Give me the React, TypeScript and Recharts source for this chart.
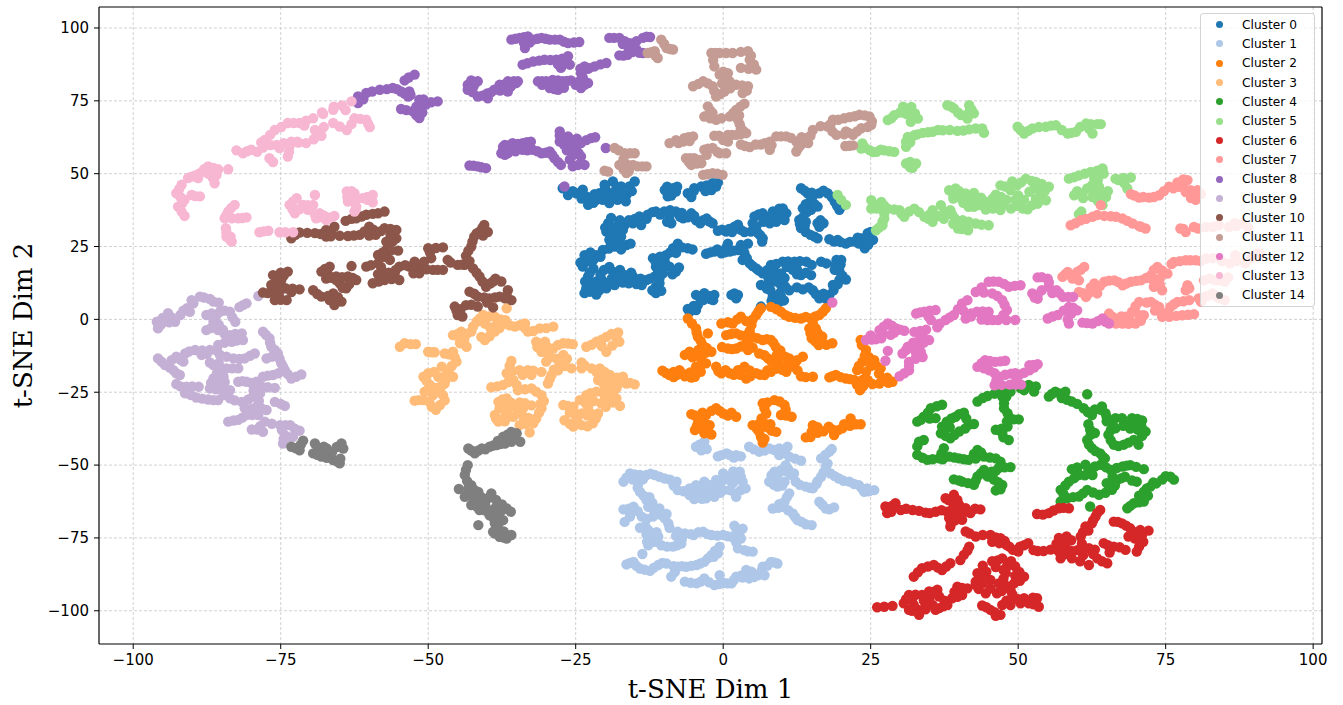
import React from "react";
import { ScatterChart, Scatter, XAxis, YAxis, CartesianGrid, Legend, ReferenceLine } from "recharts";

const cluster0 = [[-27.2,45],[-26.3,42.7],[-24.9,43.3],[-23.2,42.2],[-22.9,39.3],[-21.5,41],[-21,43.3],[-20.1,46.2],[-18.7,47.3],[-19.5,43.3],[-18.4,43.9],[-19.3,39.9],[-17.9,41],[-16.4,42.7],[-15.9,45.6],[-15,47.3],[-17.3,45.6],[-20.4,41],[-9.9,44.4],[-9.1,43.9],[-8,43.9],[-9.4,42.2],[-8.5,45],[-6,43.3],[-4.9,45],[-3.7,45.6],[-1.8,46.7],[-1.2,45.6],[-2,44.4],[-12.8,35.9],[-14.2,35.3],[-13.9,32.4],[-15.3,33],[-16.7,32.4],[-18.1,31.8],[-19.5,33],[-19.8,30.1],[-18.1,29.6],[-17,30.7],[-19.3,27.3],[-17.3,28.4],[-16.4,25.5],[-18.4,25],[-20.4,23.8],[-21.5,22],[-23.5,22],[-22,20.4],[-23.8,18.1],[-22,17.5],[-22.9,14.7],[-21.5,13],[-23.2,10.7],[-23.5,9],[-21,10],[-19.8,10.7],[-18.4,11.8],[-20.2,17],[-18.7,16.4],[-20.7,14],[-18.9,14],[-16.6,15.2],[-15.3,14.7],[-16,12.4],[-14.7,12.1],[-13,13.5],[-11.6,14.7],[-10.2,15.8],[-11.4,11.2],[-11.4,9],[-10.8,12.4],[-8,16.4],[-9.1,18.1],[-9.9,19.8],[-11.4,18.1],[-11.9,21],[-9.7,22],[-8.5,24.4],[-7.7,26],[-6,24.4],[-11.4,37],[-10,37],[-9.1,35.3],[-8.8,33],[-8,37],[-6.8,34.7],[-5.4,36.4],[-4.6,34],[-3.4,34],[-2.3,33.6],[-0.9,30.4],[0.5,30.1],[1.9,31.8],[3,30.7],[1.5,30],[-2.9,22.5],[-1.5,23.3],[-0.3,22.7],[0.8,26],[1.1,23.3],[2.5,23.8],[4.2,26],[3.6,22.7],[3.3,20.4],[4.5,19.2],[5.6,17.5],[6.7,15.8],[5.3,35.3],[6.7,36.4],[8.4,37],[10.1,38.1],[10.7,36.4],[9,34.7],[7.9,33],[10.4,34.1],[5.6,31.8],[4.7,30.1],[5.9,29.6],[6.7,27.8],[13.2,45],[14.3,43.3],[14.9,41],[16.3,43.3],[17.7,43.3],[18.9,40.4],[19.7,37.6],[13.5,38.1],[14.9,37.6],[16,38.7],[12.9,34.1],[14,33.5],[16.5,34],[16.3,31.8],[13.2,31.3],[14,30],[15.5,28.4],[18,27.5],[19.4,27.3],[20.8,26],[22.3,26.7],[23.4,27.8],[24.5,29.6],[25.4,27.3],[24,24.4],[23.8,27],[8.1,18.7],[10.1,19.8],[12.1,19.8],[14.1,19.8],[16.6,19.8],[19.2,20.4],[20,20.4],[8.4,15.8],[9.8,15.8],[11.8,17],[13.2,15.2],[14.9,15.2],[18.9,17],[19.7,16.5],[6.4,11.8],[7.9,12.4],[9.8,11.8],[11.2,10],[13.5,10.3],[15.2,10],[16.3,7.2],[18,8.4],[18.6,11.8],[20.8,13.7],[19.7,13.5],[8.4,7.8],[9.8,7.8],[9,4.9],[-4.6,8.4],[-3.2,9],[-1.5,8.4],[-1.7,6.6],[-3.4,6.6],[-4.3,4.9],[-5.7,2.6],[-4.6,3.2],[1.4,8.4],[2.5,8.4],[2.2,7.2],[6.4,4.4]];
const cluster0More = [[-25.5,44],[-24,41.5],[-22,40],[-20.5,43],[-20,45],[-18,45.5],[-17,43],[-16.5,40.5],[-15.5,44],[-18.8,41.5],[-21.8,43],[-23.8,44.5],[-9.5,45.5],[-8.8,42.5],[-7.8,45.5],[-5.4,42],[-5,44],[-3,44],[-2.8,46],[-0.9,47],[-13,34.5],[-15,34.5],[-16,34],[-17.5,34],[-19,34.8],[-20,31.5],[-18.8,31],[-19,28.5],[-17.8,27],[-15.7,26],[-17.3,24],[-19.4,24.3],[-20.8,21.5],[-22.5,23],[-23,20],[-24.2,19.5],[-22.6,16],[-23.4,13],[-22,12],[-22.6,9.5],[-21.5,8.5],[-20.4,11.5],[-19.4,12.7],[-20.8,15.5],[-19.3,18],[-17.5,17],[-17.8,14.8],[-17,12.6],[-15.6,16],[-14,14],[-13.8,11.8],[-12.4,14],[-11,16.5],[-10.8,14],[-10.5,9.8],[-12,10],[-7.5,17.8],[-8.6,15.5],[-10.5,18.5],[-11.5,20],[-10.7,21.5],[-9,23],[-8,22.8],[-7,24.7],[-5.2,24],[-12,36.8],[-10.7,36],[-9.5,33.5],[-9,37.5],[-7,36.5],[-7.3,35.2],[-6,35],[-4.9,35.5],[-3.9,33],[-2.8,34.6],[-1.8,33],[-0.2,30.8],[1,31],[2.5,32.5],[3.6,30],[-2.2,23],[-1,24],[0.3,23],[0.5,24.5],[1.8,23.6],[3,25.5],[3.4,24],[4,21],[5,18.3],[6,16.8],[6,36],[7.5,35],[9.5,38],[9.5,36],[6.8,33.5],[9,33.5],[8.2,35.5],[5,33],[5.2,30.7],[6.3,28.8],[6.6,26.7],[13.8,44.2],[15.2,42.3],[15,43.5],[17,44.2],[18.4,42],[19.3,39],[20,38.8],[14,39.5],[14.2,36.8],[15.5,39.5],[13,32.7],[13.5,35],[16,33],[17,33],[13.8,32],[14.8,29],[16,27.8],[18.8,26.7],[19.9,26.5],[21.5,26.6],[22.8,28],[24.2,28],[24.6,25.7],[25,30],[23,26],[24.8,26.7],[7.5,17],[8.5,17.5],[9,19],[11,19.9],[13,20],[15,18.7],[17.5,19.2],[19,18.7],[9,14],[7.7,14],[9,13],[10.4,14.2],[10.8,18],[12.5,17.2],[12.5,15.5],[14,16],[12.5,11],[10.5,11.3],[14.5,11],[15.7,8.7],[17,8.8],[17.5,7],[18.7,10],[19.4,12],[20.2,15],[19.9,18.8],[8,10],[9.6,9],[8.2,6.3],[9.5,6],[10.3,6.5],[7.4,10.6],[-4,7.7],[-2.4,8],[-2.2,7],[-5,3.7],[-5,4.6],[-6,3.6],[1.9,8.9]];
const cluster1 = [[-4.6,-43.7],[-3.2,-42],[-3.7,-44.9],[-0.3,-46.6],[1.1,-46.6],[2.2,-46.6],[4.4,-43.7],[6.1,-45.4],[7.8,-44.3],[9.5,-44.3],[10.9,-43.7],[9.5,-46.6],[11.2,-47.1],[13.2,-48.5],[18,-45.4],[16.6,-47.7],[-16.9,-55.7],[-15.8,-52.9],[-14.1,-53.4],[-13,-53.4],[-14.4,-56.3],[-14.1,-59.2],[-13,-62],[-11.6,-53.4],[-9.9,-54.6],[-7.9,-55.7],[-7.7,-58.6],[-5.7,-58],[-4.6,-56.9],[-3.2,-55.7],[-1.2,-55.1],[-5.7,-60.3],[-4.3,-60.9],[-2.9,-61.4],[-1.5,-60.9],[-3.4,-58.6],[0,-52.9],[2.8,-52.3],[1.4,-53.4],[3.3,-55.7],[1.6,-56.3],[0,-58.6],[3,-58.6],[2.2,-60.9],[1.1,-58.6],[-16.9,-65.2],[-15.2,-64.3],[-16.7,-69.5],[-15.8,-67.7],[-12.7,-64.3],[-10.8,-64.9],[-13.8,-67.7],[-11.9,-67.7],[-9.9,-68.3],[-9.3,-70],[-14.1,-71.5],[-12.7,-72.3],[-12.4,-75.2],[-12.7,-77.5],[-11,-74.6],[-10.5,-77.5],[-8.5,-78],[-7.1,-76.9],[-7.7,-72.9],[-6.5,-73.5],[-3.4,-72.9],[-5,-74],[-2,-74],[0,-74],[1.4,-74.6],[2.2,-71.7],[3,-75.2],[2.5,-78.6],[3.6,-79.2],[5,-79.7],[-13.7,-80.5],[-16.4,-84.1],[-15.2,-83.2],[-14.1,-85.5],[-12.4,-86.3],[-11,-84.3],[-9.6,-83.8],[-8.8,-88.3],[-7.7,-84.9],[-6.3,-84.9],[-4.5,-84.3],[-3.2,-83.2],[-2,-80.9],[-0.6,-78],[-0.9,-80.3],[-6.5,-90],[-4.5,-90.6],[-3.2,-88.9],[-1.5,-91.2],[0,-90.4],[-0.6,-87.8],[1.4,-90.6],[2.2,-88.3],[4.4,-88.9],[3.9,-86],[5.9,-87.8],[7,-87.8],[6.7,-84.9],[8.1,-83.2],[9.2,-83.8],[8.7,-52.3],[9.8,-51.7],[10.6,-50],[12,-52.9],[7.8,-55.7],[9.2,-55.7],[10.4,-55.7],[9.2,-57.4],[12.3,-55.7],[14,-57.4],[15.2,-58],[16.6,-54],[17.4,-50.6],[18.2,-52.9],[19.6,-54.6],[21.4,-55.7],[23,-56.9],[23.9,-59.2],[25.6,-58.6],[11.2,-59.7],[10.4,-62.6],[8.4,-64.9],[10.1,-64.3],[11.8,-66.6],[12.6,-68.9],[14,-70.3],[16.3,-62.6],[17.4,-64.9],[18.8,-64.5]];
const cluster1More = [[-4,-43],[-2.8,-44.5],[0.6,-46],[1.8,-47.4],[-0.9,-47],[3,-47],[5.2,-44.6],[7,-45],[8.6,-44.8],[10.2,-45],[10.5,-46],[12.2,-47.8],[17.3,-46.5],[18.4,-44.5],[-16.4,-54.3],[-15,-53.2],[-15.3,-55],[-13.6,-54.9],[-14.5,-57.8],[-13.5,-60.5],[-12.5,-61],[-12.3,-53],[-10.8,-54],[-9,-55],[-8.4,-57],[-6.7,-59],[-5,-59],[-5.1,-58],[-4,-58],[-2.4,-56.8],[-0.5,-56.6],[-2,-59],[-3.6,-61.6],[-4.9,-61.7],[0.8,-55],[1.7,-52.2],[0.4,-54.5],[3,-54],[2.3,-54.9],[-0.8,-57.6],[3.8,-58],[2,-59.7],[-0.5,-59.5],[-16,-65],[-15.7,-66.4],[-14.5,-65.8],[-12,-63],[-11.7,-65.5],[-13,-68.5],[-10.7,-67],[-9.6,-66.8],[-9.1,-71.5],[-13.2,-71],[-13,-73.8],[-12.9,-76.3],[-11.7,-76.3],[-11.3,-73],[-9.5,-78],[-7.8,-77.5],[-7,-75.3],[-8,-74.3],[-5.5,-73.7],[-4.2,-73],[-2.7,-73.7],[-1,-74.2],[0.7,-74.4],[2.7,-73.4],[2.2,-76.5],[1.9,-70.8],[3.3,-71.8],[4.2,-79.6],[-15.8,-83.6],[-14.7,-84.6],[-13.3,-85.9],[-11.8,-85.3],[-10.3,-83.6],[-8.2,-86.7],[-8.4,-84.7],[-7,-84.7],[-5.4,-84.6],[-3.9,-83.8],[-2.6,-82],[-1.4,-79.5],[-1.6,-81.5],[-5.5,-90.4],[-3.8,-90],[-2.4,-90.2],[-0.7,-90.8],[0.7,-90.6],[1.8,-89.5],[3.3,-88.6],[3,-88],[5.2,-88.4],[4.8,-86.6],[6.5,-86.3],[7.5,-84.5],[8.6,-83.4],[8.2,-53.5],[9.3,-53],[10.5,-52],[11,-51.3],[11.4,-53.3],[8.4,-55.2],[8.6,-56.8],[10,-57],[13,-56.8],[14.7,-57.8],[15.8,-56.5],[16,-55.5],[17,-52.5],[17.7,-49.5],[18.9,-53.8],[20.4,-55.4],[22.2,-56.5],[23.5,-58],[24.7,-59],[24.4,-58],[10.8,-61],[9.5,-63.4],[9.3,-64.7],[11,-65.5],[12.2,-67.8],[13.3,-69.5],[15,-70.6],[16.8,-63.6],[18,-65.2]];
const cluster2 = [[-6,0.3],[-4.6,-3.1],[-4.3,-6],[-2.6,-4.8],[-3.5,-8.8],[-2,-11.1],[-5.7,-11.1],[-6.5,-12.2],[-4.6,-12.2],[-2.9,-15.1],[-4.6,-16.2],[-4.8,-19.7],[-6.5,-19.5],[-7.9,-19.1],[-9.1,-19.1],[-10.3,-17.6],[-7.4,-17.4],[-1.2,-16.2],[-0.3,-18.5],[1.1,-18.5],[2.5,-17.4],[3.6,-16.2],[3.9,-20.3],[5.6,-18.5],[7,-19.1],[8.1,-18],[9.5,-15.7],[10.7,-18],[11.8,-16.2],[13.5,-12.8],[13.2,-19.5],[15.2,-19.7],[11.2,-13.4],[9.1,-12.2],[8.9,-9.4],[8.1,-7.1],[6.7,-7.1],[5,-6],[3.9,-8.2],[2.2,-10],[0.8,-10],[0.5,-5.4],[2.2,-4.8],[3.9,-5.4],[4.8,-1.9],[3,0.9],[1.6,-1.4],[-0.3,-1.4],[5.6,1.5],[6.4,3.8],[4.2,-10.5],[6.1,-11.7],[7.6,-13.4],[8.1,4.3],[9.8,2.6],[11.2,0.9],[13.2,0.3],[14.9,0.3],[16.3,1.5],[17.4,3.8],[14.6,-3.1],[15.7,-3.1],[15,-6.5],[16.8,-5.9],[16.2,-8.8],[18.5,-8.2],[23.3,-7.1],[24.2,-10.5],[23.6,-14.5],[22.7,-17.4],[25.6,-14],[26.7,-16.8],[18,-19.9],[19.1,-19.1],[20.8,-20.3],[22.2,-20.8],[23.2,-24.3],[23.6,-20.8],[25.3,-22.2],[27,-20.8],[28.7,-21.4],[-5.4,-32.5],[-4,-33.4],[-2.9,-32.8],[-1.2,-30.5],[0,-32.3],[2.2,-33.4],[1.4,-32],[-4.3,-35.7],[-2.3,-36.3],[-4.8,-38],[-3.2,-39.1],[-2,-39.5],[6.7,-28.8],[8.7,-27.7],[10.4,-29.4],[9.8,-32.8],[11.6,-33.4],[7.3,-32.3],[7,-35.7],[5,-36.3],[6.1,-38.6],[6.7,-42.3],[9,-38.6],[8,-36],[14,-40.5],[15.2,-36.3],[16,-38.9],[17.9,-36.8],[18.8,-39.7],[20.2,-37.4],[21.6,-34],[23.3,-36]];
const cluster2More = [[-5.3,-1.4],[-4.5,-4.5],[-3.8,-7.4],[-2.8,-9.8],[-3,-11.5],[-4.2,-10.5],[-5.2,-13],[-3.8,-13.3],[-3.6,-15.4],[-3.8,-18],[-5.6,-18.2],[-5.4,-20],[-7,-18.5],[-8.4,-18],[-9.7,-18.4],[-8.4,-19.8],[-0.8,-17.8],[0.4,-17.4],[1.8,-19],[2.9,-19],[3,-17.5],[4.6,-19.5],[4.5,-17.5],[6.3,-19],[7.5,-17.5],[8.9,-17],[9.2,-14],[10,-17.3],[11,-15],[12.3,-14.5],[12.6,-17.5],[12.5,-14],[10.5,-12.8],[14,-19.8],[9.7,-10.7],[8.5,-8],[7.4,-6.8],[5.8,-6.5],[4.4,-7],[3,-9.3],[1.5,-10.2],[-0.2,-9.5],[1.3,-5],[3,-5.5],[4.5,-4],[3.9,-0.6],[2.4,0],[0.8,-1],[5,0],[6,2.8],[5,-9.7],[7,-12.3],[8.2,-14.5],[9,3.5],[10.5,1.5],[12.2,0.5],[14,0.8],[15.6,1],[16.9,2.6],[15.2,-1.5],[14.8,-4.8],[16,-4.6],[15.6,-7.5],[17.5,-8.7],[16.5,-7.3],[23.5,-8.8],[24,-12.5],[23,-16],[24.7,-13],[25,-16],[25.9,-15.8],[26.4,-18.6],[24.2,-18],[18.5,-19.5],[19.9,-19.8],[21.5,-20.5],[22.7,-22.5],[23.7,-23],[24.5,-20.8],[26.5,-22],[28,-21.8],[27.8,-20],[-4.8,-33],[-3.5,-32],[-2,-31.4],[-0.6,-31.4],[0.8,-33],[-3.5,-34.5],[-3,-36],[-4.5,-36.8],[-3.4,-37.8],[-2.6,-38],[7.5,-28.5],[7,-30.5],[9.6,-28.2],[10.6,-31],[10.7,-33],[6.5,-34],[6,-36],[5.7,-37.5],[6.4,-40.4],[7,-41],[7.5,-37],[8.2,-38.2],[14.8,-40.4],[15,-38.5],[16,-37],[17,-38.4],[18.5,-37.8],[19.5,-38],[20.5,-36],[21.5,-36.5],[22.5,-36]];
const cluster3 = [[-54,-8.2],[-54.8,-9.4],[-52.1,-8.5],[-50,-11.1],[-48.9,-11.3],[-47.2,-11.7],[-45.8,-11.1],[-45.2,-14.5],[-46.6,-18],[-47.7,-16.2],[-45.8,-19.7],[-50.8,-19.7],[-50,-18.5],[-48.3,-19.7],[-47.2,-22],[-49.7,-22.5],[-50.6,-24.8],[-52.3,-27.9],[-50.8,-27.7],[-49.4,-30],[-48,-29.4],[-47.5,-26],[-49.2,-26],[-45.8,-5.4],[-44.4,-4.2],[-44.6,-8.2],[-43.5,-9.4],[-42.7,-4.2],[-41.8,-0.8],[-40.4,-1.4],[-40.7,1.5],[-38.7,0.9],[-38.4,-1.9],[-36.7,3.8],[-37,-1.4],[-35.3,-2.5],[-33.6,-1.4],[-33.1,-4.2],[-31.1,-3.1],[-28.8,-2.5],[-40.4,-7.1],[-38.7,-4.2],[-31.7,-7.7],[-30.2,-7.7],[-30.8,-11.1],[-28.8,-10],[-27.1,-8.2],[-25.5,-8.5],[-30,-14.5],[-27.1,-12.2],[-27.7,-15.7],[-29.1,-19.1],[-29.7,-22],[-25.7,-16.8],[-23.2,-9.4],[-21.5,-7.7],[-19.8,-6],[-17.8,-4.5],[-19.8,-11.1],[-17.6,-7.7],[-35.9,-14.3],[-36.7,-18.5],[-34.5,-17.4],[-33.1,-17.4],[-30.8,-18],[-39.3,-23.3],[-37.3,-22.5],[-35.6,-20.8],[-34.8,-24.3],[-32.5,-23.7],[-30.8,-26],[-30.8,-30.5],[-31.7,-34],[-32.2,-35.7],[-33.9,-33.4],[-34.5,-36.3],[-32.8,-38.8],[-38.1,-28.3],[-36.7,-27.1],[-38.7,-32.8],[-38.1,-35.1],[-37.3,-30.5],[-35.3,-30],[-35.6,-33.4],[-33.6,-28.8],[-24,-14.8],[-24,-16.8],[-22.3,-16.8],[-20.9,-16.8],[-21.2,-20.8],[-19.2,-19.1],[-19.5,-22.5],[-18.1,-23.7],[-17,-19.7],[-16.4,-22],[-15,-22.3],[-23.2,-26],[-21.5,-24.8],[-19.2,-25.4],[-18.1,-27.1],[-17.5,-29.7],[-20.7,-28.8],[-27.1,-29.4],[-25.4,-30],[-26.9,-34.6],[-25.4,-36.8],[-24,-36.3],[-24,-32.3],[-22.1,-35.7],[-21.2,-32.3],[-22.9,-30],[-24.3,-27.7]];
const cluster3More = [[-53,-8.5],[-49.4,-11.3],[-46.5,-12],[-45.5,-13],[-46,-16],[-46.9,-19],[-47,-20.5],[-49,-18],[-50.3,-21],[-48.6,-23.5],[-48,-24.7],[-50,-24],[-51.6,-27.7],[-49.8,-28.3],[-48.7,-31],[-47.2,-27.8],[-47.8,-23],[-44.7,-6.5],[-45,-5],[-43.9,-7],[-43.5,-5],[-42.4,-2.5],[-41.3,0.2],[-39.7,1],[-39.5,-2.8],[-37.7,0],[-36.9,-0.3],[-36.2,-2],[-34.5,-2],[-33.6,-3],[-32.2,-4],[-30,-3],[-39.6,-5.8],[-41,-6],[-37.9,-3],[-31,-8.4],[-31.5,-9.5],[-29.8,-9.5],[-30,-11.5],[-28,-8.8],[-26.3,-8.3],[-29.4,-13],[-28.2,-13.5],[-26.5,-13.5],[-28.7,-17.3],[-28,-17.5],[-29.4,-20.5],[-26.8,-16],[-22.3,-8.7],[-20.6,-7],[-18.9,-5],[-20.6,-9.2],[-18.8,-9],[-18.2,-6],[-36.2,-16],[-35.7,-17.8],[-34,-19],[-32.2,-17.6],[-32.5,-19],[-38.3,-23],[-36.4,-21.5],[-35,-22.5],[-33.6,-24],[-31.7,-24.8],[-30.4,-28],[-31.2,-32],[-31,-29],[-32.8,-34.8],[-33,-33.8],[-33.5,-35.8],[-37.4,-27.5],[-37.9,-30.5],[-36,-28.5],[-38.5,-34],[-37,-33.5],[-36.7,-31.5],[-37,-35],[-34.5,-28.5],[-34.7,-31.5],[-33.9,-30.5],[-32.5,-29.5],[-23.5,-15.8],[-21.5,-18],[-20.1,-18],[-20.2,-20.3],[-20.3,-22],[-18.8,-21],[-18,-20],[-17.8,-22.2],[-18.8,-23],[-15.8,-21.8],[-22.5,-25.3],[-22.5,-27],[-20.5,-25],[-20,-27],[-18.7,-26],[-18.7,-28.5],[-26.3,-29.7],[-26,-32],[-24.9,-33.5],[-26,-35.8],[-24.7,-35],[-23,-33],[-23,-36.7],[-22.6,-32],[-21.6,-34],[-22,-28],[-23.3,-28.8],[-25.3,-32],[-19.9,-30]];
const cluster4 = [[32.9,-35.1],[34,-33.4],[35.2,-30.5],[37.1,-29.3],[36,-33.9],[37.1,-36.8],[37.9,-35.1],[39.4,-33.4],[40.8,-32],[41.6,-36.2],[40,-38.5],[38.5,-40.8],[36.9,-39.1],[42.5,-35.9],[32.9,-43.6],[34,-41.4],[32.9,-46.5],[34.6,-48.2],[36.6,-47.7],[37.4,-44.2],[38.3,-47.1],[40,-47.7],[41.6,-48.2],[43.1,-44.8],[44.2,-47.1],[46.2,-47.7],[43.1,-28.2],[44.8,-26.3],[47.3,-24.8],[48.7,-24.8],[47.6,-28.8],[48.2,-32.2],[50.1,-34.3],[48.2,-36.8],[46.2,-37.9],[48.4,-41.4],[47.3,-39],[39.1,-54.9],[40.5,-55.7],[42.5,-56.8],[43.1,-53.9],[44.2,-51.7],[44.8,-53.9],[46.7,-51],[48.7,-50.7],[45.9,-55],[47.3,-56.8],[46.2,-58.7],[50.4,-23.6],[51.8,-22.5],[52.7,-24.8],[55.2,-26.5],[56.3,-24.8],[58,-24.8],[57.4,-27],[59.1,-28.2],[61.7,-25.7],[61.1,-30.5],[62.5,-32.8],[64.2,-29.9],[64.8,-32.2],[65,-35],[66.5,-33.9],[69.3,-33.9],[71,-34.7],[66.5,-37.4],[70.3,-37.9],[71.6,-38.5],[65.3,-39.6],[66.2,-43],[67.9,-43],[69.6,-41.4],[70.4,-43],[62.2,-37.9],[61.7,-41.4],[62.5,-44.2],[63.9,-46],[64.7,-47.7],[59.1,-51.4],[61.4,-49.9],[60.3,-53.4],[62.6,-53.4],[64,-49.9],[65.7,-51.7],[67.7,-50.5],[69,-50],[71.3,-51.4],[58.6,-55.7],[57.2,-58.5],[58.3,-61.4],[57.2,-62.5],[60.3,-60.8],[61.7,-58.5],[63.7,-60.2],[65.9,-58.5],[66.8,-55.1],[65,-56.2],[68.1,-54],[69.3,-55.3],[70.1,-55.7],[75.8,-54],[76.4,-55],[74.4,-55],[72.4,-57.4],[71.3,-59.1],[71.3,-62.5],[69.6,-63.1],[68.5,-64.8],[62.2,-64.2]];
const cluster4More = [[33.5,-34.5],[34.7,-32],[36.2,-29.8],[35,-34],[37.5,-38],[38.7,-34],[38.4,-37],[40,-32.5],[41.2,-34],[41,-37.5],[39.2,-39.7],[37.7,-40],[33.2,-42],[33.8,-47.5],[35.5,-48],[37,-46],[37.2,-48],[39.2,-47.4],[40.8,-48],[42.5,-46.2],[42.8,-47.8],[43.7,-45.7],[45.2,-47.4],[47,-48.8],[44,-27],[46,-25.5],[47.3,-26.5],[48,-26.5],[47.6,-30.5],[48.5,-33.7],[49.2,-34.3],[47.2,-37.5],[48.1,-35],[47.5,-40.5],[46.8,-38],[40,-55.3],[41.5,-56.2],[42.8,-55.4],[43.7,-52.8],[45.5,-52.3],[46.2,-52],[47.7,-50.8],[45.4,-54],[46.6,-55.9],[47,-58.3],[51,-24.3],[53,-23],[55.7,-25.6],[57,-25.4],[58.3,-27.6],[60,-29],[61.8,-31.8],[63,-30.9],[64,-31],[65,-33.5],[67.6,-33.9],[68,-35.8],[70.2,-34.2],[69,-37.5],[67.8,-36.5],[66,-36],[65.7,-38],[65.7,-41.5],[67,-43.5],[68.7,-42.3],[71,-40],[70.9,-36.8],[69.3,-35.5],[63,-39],[62.3,-39.5],[62,-43],[63.1,-45.2],[64.3,-47],[61.9,-36],[60,-50.8],[60,-52.3],[61.3,-53.5],[62,-51.5],[63,-50.5],[64.9,-50.8],[66.7,-51],[68.4,-50.2],[70,-50.6],[59.5,-54.5],[58,-57],[57.7,-60],[59.3,-61],[61,-59.7],[62.7,-59.4],[64.8,-59.5],[66.4,-57],[67.5,-54.5],[66,-54],[65.5,-57.2],[75,-53.8],[73.4,-56.3],[72.9,-56],[71.8,-58],[72,-60.5],[70.5,-60.5],[70.5,-62.8],[69,-64]];
const cluster5 = [[27.9,68.4],[29,70.1],[30.7,71.8],[31.9,72.9],[32.5,70.7],[31.8,67.8],[33,68.9],[38,73.5],[39.1,72.4],[40.3,70.1],[41.7,73.5],[42.5,70.7],[41.4,68.9],[31.3,62.6],[32.4,63.2],[33.8,64],[35.5,64.4],[37.2,64.9],[39.7,64.7],[41.7,65.2],[43.9,65.5],[44.2,64],[31,59.2],[31.5,61],[23.4,58.6],[24.8,58.1],[23.6,60.4],[26,57.5],[27.3,58],[29,57.5],[31,53.5],[32.7,53.5],[32.1,52],[49.9,66.1],[51,63.8],[52.4,65.5],[54.7,66.1],[56.4,66.6],[58.4,63.8],[59.8,64.4],[61.5,67.2],[62.6,63.8],[63.4,67],[25.1,40.9],[26.8,40.3],[25.1,38],[27.9,38],[27.3,34.6],[27,32.3],[25.9,30.6],[29.9,37.5],[30.7,35.2],[32.4,38],[34.1,35.2],[35.5,33.5],[35.5,37.5],[36.9,39.2],[38.5,37.5],[39.3,34.6],[39.8,31.2],[41.5,30.6],[40.6,34],[42.8,32.9],[45,32.3],[38.3,44.3],[39.4,44.9],[39.7,42],[41.1,43.2],[42.2,41.5],[43.7,41.8],[41.6,38.6],[43.4,39.2],[45.7,41.5],[45.7,38],[47.1,42],[47.4,39.2],[48.8,38],[50.8,38],[52.4,39.2],[47,46],[48.7,44.3],[49.8,46],[51.3,48.3],[53,47.2],[55.2,45.5],[51.9,43.8],[53.8,43.2],[54.7,40.9],[58.6,48.3],[60.3,49.4],[62.3,50.6],[64.3,51.8],[62.9,48.3],[59.5,42.6],[60.9,43.2],[61.7,44.9],[63.7,45.5],[62.6,42],[64.9,42],[64.3,39.2],[60.3,36.1],[66.5,48.3],[69.1,48.7],[68.5,44.9],[19.4,42.7],[20,41],[20.8,39.3]];
const cluster5More = [[28.5,69],[30,71],[31,70.5],[30.5,73],[32.3,69],[38.7,73],[39.8,71],[41.8,71.5],[42.1,72],[41,70],[31.7,60.8],[32.9,63.5],[34.7,64.2],[36.4,65],[38.4,65],[40.7,64.8],[42.8,65.5],[31,61],[24,59],[25.4,57.4],[26.7,58.2],[28.2,57.7],[31.7,54],[31.7,52.2],[50.4,65],[51.7,64.7],[53.5,66],[55.6,66.5],[57.4,65],[59,64],[60.5,66],[62,65.5],[62.3,67],[64,67],[26,39],[26,38],[27.3,36.3],[27.3,39],[27,33.5],[26.4,31.5],[29,37.7],[30.2,36.3],[31.5,37],[33.2,36.8],[34.8,34.5],[35,36],[36.5,35.5],[37.5,37],[37.4,34.5],[38.8,36],[39,32.8],[40.5,31],[40,33.2],[41.6,33.5],[43.8,32.5],[39,41.5],[39,43],[40,44],[40.5,41.5],[41.5,41.7],[42.5,43.4],[40.7,40],[42.5,38.6],[44.4,40.5],[45,39],[44.5,37.7],[46.4,39.8],[46.2,42.8],[48,41],[47,37.5],[49.8,39],[51.6,37.8],[53.3,39.7],[47.8,45.6],[49,47.3],[50.5,47],[52.3,47.5],[54,46.5],[54.5,44],[52.8,45],[50,42.5],[49.5,41],[51,41],[53,41.3],[59.5,48.8],[61.3,50],[63.4,51],[64.5,50],[63.5,47.8],[62.5,46],[60,44],[61,41.6],[62.9,44],[64,43.7],[63.5,40.7],[60.7,37],[67.8,48.5],[68,46.7],[67,47.8],[65.2,44]];
const cluster6 = [[27.5,-64.2],[29.2,-63.1],[27.8,-66.5],[30.1,-65.4],[32.1,-65.4],[34.3,-66.3],[36,-66],[38,-66],[40,-66],[37.7,-61.4],[39.1,-60.2],[40,-63.7],[41.1,-64.8],[43.6,-65.2],[41.9,-66.5],[38.3,-68.2],[38.5,-71.1],[40.5,-68.8],[53.2,-66.8],[55.2,-66.5],[56.9,-64.8],[58.6,-64.8],[63.9,-65.4],[63.1,-67.7],[62.5,-70],[61.4,-71.1],[60.6,-74.5],[66.2,-69.4],[67.6,-70],[69,-71.7],[72.1,-72.5],[68.7,-74.5],[71,-74],[71.2,-76.3],[70.1,-79.7],[41.1,-72.8],[42.8,-74.5],[45.3,-74],[47,-75.1],[45.6,-76.3],[48,-77.4],[49.1,-79.1],[50.3,-78],[51.7,-76.8],[54.3,-79.5],[52.6,-79.2],[56.9,-79.7],[56.9,-75],[58.2,-74.5],[58,-78],[57.2,-82],[59.1,-82],[60,-79.2],[62,-78.5],[62,-84.3],[63.4,-82],[65.1,-83.7],[64.5,-76.8],[66.2,-78],[68.2,-79.1],[41.7,-78],[40.8,-80.8],[40.2,-82.6],[32.3,-88.3],[33.7,-85.4],[35.7,-84.3],[37.1,-86],[38.5,-83.7],[45.6,-83],[47.3,-82],[48.1,-84.8],[49.5,-84.8],[43.1,-87.1],[44.6,-86.6],[51,-88.3],[42.8,-90],[46.7,-90.6],[49.3,-90.6],[42.8,-91.1],[45.3,-89.4],[47.9,-87.1],[44.5,-94],[46.4,-94],[48.7,-92.9],[49.3,-95.7],[51,-95.7],[47.3,-98],[48.7,-98],[50.4,-97.4],[53.2,-95.7],[53.5,-98.6],[51.8,-97.4],[43.9,-98.2],[45.3,-99.7],[46.2,-101.7],[47,-101.4],[39.7,-91.7],[41.4,-92.3],[40.5,-94.6],[38.8,-95.7],[38,-98],[36.6,-99.1],[36.3,-92.8],[34.9,-93.4],[36.6,-95.1],[33.7,-94.6],[31.5,-94.6],[30.6,-97.4],[32.3,-98],[33.2,-101.4],[31.5,-99.7],[34.3,-98.6],[26.1,-98.8],[27.3,-98.6],[28.7,-98.3]];
const cluster6More = [[28.5,-66],[28.6,-64],[31,-65],[33.2,-65.7],[35,-66.5],[37,-65.5],[39,-64.5],[38.2,-62],[39.7,-62],[41,-66],[42.7,-65],[38.8,-67],[39.3,-69],[38.6,-69.9],[54.2,-67],[56,-65.6],[57.7,-64.7],[63.4,-66.5],[62.7,-69],[61.9,-72.5],[61,-73],[66.9,-69.5],[68.3,-70.8],[69.8,-73],[70.7,-72.3],[69.8,-75.2],[70,-73.9],[70.5,-78],[41.8,-73.5],[44,-74],[46.2,-74.8],[46.8,-76.8],[47.7,-76],[48.5,-78],[50,-79.7],[51,-77.5],[53.3,-79.5],[55.5,-79],[56.5,-77],[57.5,-76.5],[59,-75.8],[59,-79.5],[58,-80.5],[60.8,-77],[60.8,-79],[61,-81],[62.7,-80.5],[64.2,-83],[63,-79],[65.2,-77.5],[67.2,-78.2],[60.5,-83],[65.5,-80],[41.4,-79.3],[33,-86.8],[34.7,-84.8],[36.4,-85.2],[37.8,-84.8],[46.5,-82.7],[48.8,-83],[46.2,-85],[44,-84.5],[43.8,-88],[47.5,-86],[50.2,-86.7],[49.5,-88],[44,-90.5],[47.5,-89],[48,-91.5],[50.3,-89.7],[43.3,-92.5],[45.3,-92.3],[47.2,-93.2],[49,-94.3],[50,-96],[48,-96.5],[52.5,-95.5],[52.6,-97.8],[44.6,-98.8],[46,-100.5],[40.5,-92.2],[39.2,-93.5],[39.7,-95.2],[37.5,-96.5],[37.3,-98.5],[35.5,-93.5],[35,-95.5],[35.5,-98],[34,-96.5],[32.6,-94.5],[32,-96.2],[31,-96],[33,-99.6],[32,-100],[34.3,-99.5],[36,-99.7]];
const cluster7 = [[69.1,43],[70.5,41.8],[72.2,41.8],[73.9,42.6],[75.6,45.5],[77.3,45.5],[78.7,47.8],[79.2,44.3],[80.1,41],[80.4,44.3],[58.9,32.3],[60.6,34],[62.6,35.2],[64,39.2],[65.7,35.4],[67.7,34.6],[69.4,32.9],[71.6,31.2],[77.5,31.2],[78.4,30],[79.8,31.7],[81.8,31.7],[84,32.3],[85.7,31.7],[88,32.9],[89,31.5],[57.5,14.6],[58.4,16.3],[60,16.3],[61.2,18],[60.3,13.4],[60.3,9.4],[61.5,7.7],[62.9,12.3],[63.4,8.9],[64.6,12.9],[66.3,13.4],[67.7,11.7],[69.1,12.9],[70.8,13.4],[72.5,15.2],[73.6,18],[75.3,15.7],[73,11.2],[74.4,10],[76.4,19.7],[78.4,20.3],[80.1,20.3],[81.8,20.9],[78.7,11.7],[78.4,10],[81.5,13.4],[84,13.4],[83.4,13.4],[85.6,14.4],[85.9,19.2],[88.5,19.2],[90.5,22.6],[77,6],[79,6.6],[80.6,7.2],[83,8.9],[85,6.6],[81.4,7.5],[83.4,8.2],[72.5,6],[73.9,4.3],[74.4,0.9],[75.8,4.3],[75.6,0.9],[77.8,1.4],[79.8,1.8],[70.5,6],[69.3,2.6],[68.2,0.9],[71.3,1.4],[69.9,-1.4],[67.7,-1.4],[65.4,2],[66.5,0.3]];
const cluster7More = [[69.7,42.5],[71.2,42],[73,42],[74.7,44],[76.3,45],[78,46.7],[78.4,43.7],[79.6,42.7],[78,48],[77,47],[79.3,41.6],[81,43],[59.7,33],[61.5,34.5],[63.4,35.8],[64.6,35.5],[66.6,35.2],[68.5,33.8],[70.5,32],[70.8,31.8],[78,31],[80.5,31.2],[83,31.7],[87,32],[86.7,33],[58,15.5],[59,15],[59.2,14],[60.6,17],[61,9],[62,9],[62.3,11],[63.9,11.5],[65.4,13.3],[67,12.8],[68.3,12.3],[70,13.2],[71.7,14.2],[72.8,13.7],[73,17],[74.4,16.8],[74,14],[74,12],[76,19],[77.4,20],[79.2,20.3],[81,20],[83,21],[84.5,20],[79,10.7],[82.5,14],[85,13],[87,20],[89.5,21],[86.8,22],[91,22.5],[78,6.2],[82,8],[81,6],[84,7.3],[73.2,5],[73.2,3],[74.2,2.5],[75.4,2.5],[76.4,5.2],[76.8,1.2],[78.8,1.6],[71.8,5.8],[69.9,4.5],[70.5,1.5],[69,-0.5],[70.8,-0.5],[68.7,-1.5],[66.6,-1.4],[65.9,1],[67.5,1]];
const cluster8 = [[-61.9,76.5],[-61.9,74.2],[-60.5,77.7],[-58.2,78.8],[-56,79.4],[-54.6,78.2],[-53.2,78.2],[-53.4,76.5],[-54,82],[-52.3,84],[-54.6,72.2],[-52.6,71.4],[-51.5,69.1],[-51.5,75.4],[-50.4,73.7],[-48.4,74.8],[-43.3,80.5],[-42.7,82],[-41.6,81.7],[-43.3,78.8],[-41.6,76.5],[-39.9,75.9],[-38.8,78.8],[-37.9,80.5],[-36.5,81.7],[-36.5,78.2],[-35.1,81.1],[-43,52.8],[-41.6,52.5],[-40.2,51.9],[-37.6,57],[-37,59.9],[-35.7,60.5],[-36.5,57],[-34.5,58.8],[-35.9,96],[-34.5,96.6],[-33.1,97.1],[-33.6,93.1],[-32.2,96],[-30.8,96.6],[-29.4,96],[-27.7,96],[-26.3,94.8],[-24.4,95.2],[-34,87.4],[-32.2,88.5],[-30.3,89.1],[-28.3,89.1],[-26.3,90.3],[-27.5,86.3],[-26,87.4],[-34.8,81.7],[-36.8,78.8],[-31.4,81.7],[-30,81.7],[-28.9,82.2],[-27.2,81.7],[-25.8,82],[-29.4,79.4],[-28,78.8],[-24.4,81.7],[-24.1,79.4],[-22.9,81.1],[-23.5,86.8],[-24.1,84.5],[-21.8,86.8],[-19.8,88],[-19.3,96.6],[-17.6,96.6],[-15.8,94.8],[-13.6,96.6],[-12.4,96.9],[-17.6,90.6],[-16.2,90.8],[-14.7,92.6],[-13.6,91.4],[-37.3,59.3],[-34,60.5],[-32.6,61],[-37,56.5],[-35.7,58.2],[-34,58.2],[-32.3,58.2],[-30.8,57],[-29.4,57.6],[-28.6,55.3],[-27.5,53],[-27.7,64.5],[-27.7,61],[-26.3,62.8],[-25.8,60.5],[-24.9,58.2],[-25.5,52.5],[-24.1,55.9],[-23.5,53],[-24.1,60.5],[-22.4,62.2],[-26,54.8],[-19.9,58.8],[-26.9,45.6]];
const cluster8More = [[-61,75.5],[-59.5,78.2],[-57,79],[-55.3,79],[-54,77.5],[-53,77],[-53.3,83],[-53.7,71.8],[-52,70],[-51,71],[-52,73],[-50.8,75.5],[-49.5,74.5],[-51.3,72.5],[-42.3,80],[-43,80],[-42.5,78],[-40.8,76.8],[-40,77.5],[-39.3,78],[-37.8,78.5],[-37.2,80.5],[-36,80],[-37,79],[-42.3,52.7],[-41,52.2],[-37.3,58.5],[-36,58],[-36.2,59.8],[-34.8,60.2],[-33.3,60.8],[-33,59],[-35.2,57.7],[-35.2,96.3],[-33.8,96.8],[-32.8,95],[-33.8,95],[-31.5,96.3],[-30.1,96.3],[-28.5,96],[-27,95.3],[-25.3,95],[-33.2,87.9],[-31.2,88.8],[-29.3,89],[-27.3,89.5],[-27,87.8],[-28,87.5],[-35.5,81.7],[-36,80],[-30.7,80.5],[-30.7,81.7],[-29.5,81.5],[-28,82],[-26.5,81.8],[-28.6,79],[-27,79.5],[-25,80.5],[-23.5,80.5],[-23.8,83],[-23,86],[-24.2,86],[-22.7,86.2],[-20.8,87.5],[-18.5,96.6],[-16.7,95.5],[-17,94.5],[-14.7,95.5],[-16.9,90.5],[-15.4,91.7],[-16,92],[-14.2,91.5],[-13,97],[-36.4,59],[-33.2,58],[-31.5,57.7],[-30.1,57.2],[-29,56.5],[-28,54],[-27.7,63],[-27,62],[-27,60],[-26.5,58],[-25.4,56.5],[-24.5,57],[-24.6,53],[-25,59.5],[-23.2,61.5],[-21.7,62.5],[-24.8,62]];
const cluster9 = [[-95.8,-3.1],[-96,-0.8],[-94.1,2.1],[-92.9,-0.8],[-90.9,3.8],[-88.7,7.8],[-90.1,6.6],[-86.4,6.1],[-90.4,2.6],[-81.4,4.9],[-78.8,8],[-87.6,1.5],[-85.3,2.6],[-83.6,2.6],[-82.7,-0.8],[-86.4,-0.8],[-87.6,-3.7],[-85.6,-3.7],[-83.6,-5.4],[-81.6,-4.8],[-81.4,-7.1],[-83.3,-7.7],[-85.6,-8.8],[-95.8,-13.4],[-94.6,-15.7],[-93.2,-17.4],[-92.1,-19.1],[-92.7,-12.8],[-91.5,-14.5],[-91.2,-11.7],[-89.5,-10.5],[-87,-10.5],[-88.4,-12.2],[-85.3,-12.2],[-83,-13.4],[-81.1,-13.4],[-79.4,-11.7],[-86.4,-15.7],[-84.2,-16.8],[-82.2,-16.8],[-86.4,-20.3],[-87,-23.7],[-84.7,-19.7],[-85.3,-22.5],[-83.6,-24.3],[-92.7,-22.2],[-91,-23.1],[-88.9,-23.1],[-91.2,-25.4],[-89.3,-26.8],[-87.3,-27.5],[-85.6,-27.7],[-82.2,-21.4],[-80.8,-21.4],[-79.1,-21.4],[-78.2,-23.1],[-76,-23.5],[-83.6,-27.1],[-81.6,-28.3],[-79.7,-26.5],[-78.5,-25.4],[-79.1,-30],[-77.4,-31.1],[-76,-28.3],[-74.3,-29.7],[-81.1,-30.5],[-83.9,-35.1],[-82.2,-34.5],[-80.8,-32.8],[-78.8,-32.8],[-79.9,-37.8],[-78,-38.6],[-77.7,-35.1],[-75.1,-36.3],[-73.4,-36.3],[-74.3,-39.7],[-74.6,-42.6],[-71.8,-38.2],[-72.9,-40.3],[-78,-4.2],[-76.9,-6.5],[-76.6,-9.4],[-75.5,-11.7],[-77.4,-13.4],[-74.9,-15.1],[-74.3,-17.4],[-73.2,-20.3],[-71.5,-18.9],[-78,-19.7],[-76.3,-19.1]];
const cluster9More = [[-95.3,-1.8],[-95,0.5],[-93.5,0.7],[-93.9,-1],[-92,1.5],[-91.5,3],[-89.8,5.5],[-88,7.5],[-87,7],[-85.5,5.7],[-80.8,5.5],[-82,4.2],[-86.7,2],[-86,1],[-84.5,3],[-83.2,0.7],[-85.5,-1.8],[-84.8,-3.5],[-84.5,-5],[-82.7,-5],[-82.5,-7.3],[-84.5,-8],[-86.8,-3],[-95.2,-14.5],[-93.8,-16.5],[-92.7,-18.5],[-93.5,-14],[-92,-13.8],[-90.5,-11],[-88.3,-10.7],[-85.8,-10.8],[-87.5,-11.8],[-84.2,-12.8],[-82,-13.6],[-80.2,-12.5],[-85.5,-15],[-87,-14.8],[-85,-17],[-83.2,-16.8],[-85.8,-18.5],[-86.8,-21.8],[-85.7,-21],[-84.5,-21.5],[-84.8,-24],[-86,-24],[-92,-23],[-90,-23],[-90.2,-26],[-88.3,-27.2],[-86.4,-27.7],[-84.7,-26],[-81.5,-21.2],[-80,-21.8],[-79.5,-23.5],[-77.2,-23.3],[-82.8,-27.8],[-80.5,-27.5],[-79.6,-24.5],[-78.7,-28],[-78.3,-30.5],[-75,-29],[-80,-30.8],[-83,-34.7],[-81.5,-33.7],[-79.8,-32.8],[-79,-37.8],[-78.5,-36.7],[-76.5,-35.8],[-74.2,-36.3],[-74.8,-38],[-74.5,-41],[-72.7,-37.4],[-73.7,-40.4],[-77.5,-5.3],[-76.8,-8],[-76,-10.5],[-76.5,-12.8],[-75.2,-13.5],[-74.6,-16.2],[-73.8,-18.8],[-72.4,-19.7],[-77.2,-19.3],[-75.4,-18.5]];
const cluster10 = [[-73.2,27.8],[-71.8,29.8],[-69.2,29.6],[-67.3,28.4],[-65.9,31.8],[-67.3,30.7],[-63.6,28.6],[-61.6,29],[-60,31.8],[-58.9,29],[-57.4,31.3],[-55.4,30.7],[-55.4,27.8],[-57.1,26.7],[-64,33.8],[-62.2,34.7],[-60.5,35.9],[-58.5,36.4],[-57.4,37],[-57.1,23.8],[-55.1,23.6],[-58.5,22.1],[-56.5,20.4],[-60.5,18.1],[-58.5,19.2],[-57.7,16.4],[-55.7,15.8],[-59.4,12.4],[-57.4,13.5],[-54.9,13.5],[-54.9,18.1],[-53.2,18.1],[-51.5,18.1],[-51.5,15.8],[-52.3,19.8],[-49.2,17],[-49.5,21],[-50,24.4],[-47.5,24.7],[-47.5,17],[-46.7,20.4],[-45,18.7],[-43.8,18.7],[-43.6,21.8],[-42.7,25],[-42.2,28.4],[-41.3,30.1],[-40.5,32.4],[-39.9,30],[-42.4,17.5],[-41.3,14.7],[-40.2,11.2],[-38.6,14],[-37.6,13],[-36.5,10],[-43,9.5],[-41.6,7.8],[-39.6,7.2],[-37.9,7.8],[-35.9,6.6],[-39,4.1],[-43.6,4.9],[-41.6,4.4],[-45.5,4.4],[-45,1.5],[-63,18.3],[-68.1,16.4],[-66.7,18.1],[-67.3,14],[-65.6,14.7],[-63.6,14.7],[-62.2,13.5],[-63.9,10.7],[-65,12.4],[-76.3,15.2],[-73.8,16.4],[-76.6,11.8],[-74.9,13.5],[-78,9.2],[-76.3,9],[-74.2,10.7],[-71.8,10.3],[-76,6.6],[-74,6.6],[-69.5,10],[-68.1,7.8],[-66.1,8.9],[-66.7,6.6],[-64.7,6.1],[-65.9,4.9]];
const cluster10More = [[-72.5,29],[-70.5,29.7],[-68.2,29.3],[-66.5,30],[-66.5,28.5],[-65,28.7],[-62.6,28.8],[-60.8,30.2],[-60,28.8],[-59.3,30.8],[-58,30.3],[-56.4,31],[-56.4,29],[-56,26.8],[-63,34.5],[-61.3,35.3],[-59.4,36.2],[-56.3,23.7],[-57.7,23],[-57.5,21.5],[-59.7,18.6],[-58,18],[-58.5,15.5],[-56.7,16],[-58.4,13],[-56.2,13.8],[-55.5,17],[-53.9,18.6],[-52.4,17.5],[-52.5,15.8],[-50.3,17.2],[-50.7,19.8],[-49.7,23],[-48.7,24.5],[-48.4,17],[-46.2,19.5],[-44.3,18.8],[-43,20],[-43.2,23.5],[-42.5,26.7],[-41.8,29.5],[-40.8,31.5],[-40.7,28.8],[-41.8,16],[-40.8,13],[-39.5,12.3],[-39,13],[-42.2,8.8],[-40.5,7.5],[-38.7,7.5],[-37,7.2],[-36.7,8.2],[-40,5.8],[-42.7,5],[-44.5,3.5],[-45.2,3],[-44.2,1],[-67.5,17.3],[-67,15.5],[-66.4,14.3],[-64.6,14.5],[-62.8,14.2],[-63.4,12],[-64.5,10.8],[-65.6,13.5],[-75.5,14.5],[-75,16],[-75.8,13],[-77.2,9],[-75.3,8],[-75,10.2],[-73,10.5],[-75,6.7],[-73.2,9.4],[-68.8,8.7],[-67,8],[-65.3,7.6],[-66,6.2],[-75.5,11],[-74.5,15]];
const cluster11 = [[-10.5,96],[-9.6,93.1],[-8.5,92.6],[-12.8,91.4],[-11.6,92],[-11.1,89.7],[-2,91.4],[-0.6,91.4],[-1.5,86.8],[1.6,91.4],[4.2,92],[4.5,89.1],[5.6,85.7],[3,86.3],[-0.6,84],[0.8,84.5],[1.1,81.7],[-5.1,80],[-3.4,81.7],[-1.8,80],[-1.2,76.5],[0.2,78.2],[2.2,80.5],[4.2,80],[3.3,77.7],[-2.6,73.1],[-1.8,70.8],[-3.2,69.6],[-1.2,68.5],[1.1,69.6],[2.2,71.9],[3.6,74],[2.5,68.5],[3,65.6],[3.9,63.9],[2.2,63.3],[0.8,63.3],[-1.5,63],[0.8,61],[-9.1,60.5],[-6.6,62.2],[-5.1,62.8],[-6.8,61],[3,60],[4.5,59.1],[6.4,60],[7.9,61],[7.9,58.2],[9,62.8],[10.7,62.8],[12.4,61],[12.4,57.6],[14.1,62.2],[14.4,60.5],[15.2,65],[17.7,66.2],[18.6,68.5],[21.4,69.4],[23.1,70.2],[24.8,69.6],[25.1,66.8],[22,63.3],[19.2,63.3],[23.4,65.6],[20.8,64.5],[21.4,59.6],[-3.2,58.2],[-1.8,58.8],[-0.6,57],[0.5,57],[-6.3,55.3],[-4.9,55.3],[-5.4,53],[-3.7,53.6],[-3.4,49.6],[-1.8,50.2],[-0.1,49.6],[-18.4,58.8],[-16.7,57],[-15,57],[-17.6,53],[-16.2,53],[-14.5,52.5],[-13,52.5],[-16.4,50.2],[-20.1,51]];
const cluster11More = [[-10,94.5],[-9,92.8],[-12.2,91.7],[-11.5,90.5],[-1.3,91.4],[-1.7,89],[0.5,91.4],[3,91.8],[4.7,90.5],[5.2,87.5],[4.3,86],[0,85],[0.6,83],[-4.2,80.8],[-2.6,81],[-1.5,78.3],[-0.5,77.3],[1.2,79.3],[3.2,80.3],[-0.2,81],[4,78.5],[-2.2,71.7],[-2.5,70],[-2.2,69],[-0.3,69],[1.7,70.8],[2.9,73],[2.7,70],[2.8,67],[3.4,64.7],[3,63.6],[1.5,63.3],[0,61.5],[-0.7,63],[-8,61.5],[-7.6,60.5],[-5.9,62.5],[-5.7,61.2],[3.7,59.5],[5.5,60],[7.1,60.5],[8.2,59.8],[9.8,62.8],[11.5,62.3],[13,61],[12.8,59],[13.3,62.5],[14.8,63],[13.2,60],[16.5,66.3],[18.2,67],[19.5,68.5],[20.5,69],[22.3,69.7],[24,70],[25.2,68],[24.5,66],[22.7,64.5],[20.5,63.5],[18.5,64.5],[21.3,64],[22,59.7],[20.7,59.5],[-2.6,58.6],[-1,57.5],[-5.6,55.3],[-5.8,54],[-4.5,53.5],[-4,54.7],[-2.8,56.5],[-2.7,49.8],[-1,50],[-17.7,58],[-15.8,57],[-16.9,55],[-16.9,53],[-15.3,53],[-13.7,52.5],[-16.9,51.5],[-19.5,50.7],[-16,50.8]];
const cluster12 = [[32.7,2],[34.1,2.6],[36,3.2],[35.2,-0.2],[36.3,-2.7],[37.7,-0.2],[39.1,1.5],[40.5,5.5],[41.4,6.6],[41.1,0.3],[43,2.6],[45,2.6],[44.8,-0.2],[46.6,-0.2],[49.5,-0.2],[48.1,3.2],[47.3,6.6],[45.6,8.9],[42.8,9.4],[45,12.9],[46.7,12.9],[48.4,11.2],[50.4,11.7],[53.3,14.4],[55,14],[55.2,11.2],[52.4,8.9],[53.3,7.1],[56.5,10],[57.6,7.7],[59.3,7.7],[55,0.3],[56.7,1.5],[58.6,4.3],[60,3.1],[58.6,-1.4],[60.9,-1.1],[62.6,-1.4],[64.3,0.3],[65.4,-1.4],[24.2,-7.1],[26.5,-3.7],[27.9,-1.4],[29.3,-3.1],[30.7,-3.9],[25.9,-6.8],[28.4,-5.3],[32.4,-4.3],[34.4,-3.5],[33.2,-7.1],[34.9,-7.1],[31.3,-9.4],[30.4,-11.7],[33.2,-9.4],[27.9,-10.8],[27.5,-14.2],[33.8,-12.9],[31.5,-14.6],[31.5,-17.5],[29.9,-19.5],[43.1,-16.3],[44.4,-14],[46.1,-14.6],[47.8,-14.2],[45.1,-17.5],[46.8,-19.7],[48.8,-18.6],[46,-22.6],[48.6,-22.4],[50.5,-22.4],[50.2,-19],[51.9,-17.5],[51.9,-15.7],[53.3,-15.4],[18.5,5.8]];
const cluster12More = [[33.4,2.4],[35,3],[34.8,1],[36.7,-1.5],[38.4,0.7],[39.8,3.5],[40.7,3],[42,2],[42,1],[44,2.7],[43.8,-0.1],[45.7,-0.2],[48,-0.2],[47.5,1.5],[47.7,5],[46.5,8],[44.2,9.2],[43.8,11],[45.8,13],[47.6,12.2],[49.4,11.5],[54,14.5],[55.2,12.7],[54,10],[53.3,8.5],[52.8,7.5],[55.8,9],[57,9],[58.5,7.7],[55.8,1],[57.7,3],[59.3,4],[59,2],[58.4,0],[61.7,-1.3],[63.5,-0.6],[64.8,-0.8],[25,-5.5],[25.2,-6.9],[27.2,-2.5],[28.6,-2.2],[30,-3.5],[27,-5],[26.8,-6.5],[29,-4.5],[33.4,-4],[33.8,-5.7],[32.2,-8],[34,-8],[31,-10.5],[32,-9.8],[33.5,-11.2],[32.6,-13.5],[31.5,-16],[30.7,-18.5],[32.7,-11.5],[43.8,-15],[45.2,-14.3],[47,-14.4],[44.2,-16.8],[46,-18.5],[47.8,-19],[46.3,-21],[47.2,-22.5],[49.6,-22.4],[49.7,-20.5],[49.5,-18.5],[51,-18.3],[52.6,-15.6],[52.7,-16.5]];
const cluster13 = [[-63,74.8],[-66.1,71.9],[-69.5,69],[-71.8,67.4],[-73.8,67.4],[-76,65],[-77.7,61.6],[-75.7,59.9],[-73.2,61],[-70.7,60.5],[-68.1,63],[-69.2,65],[-66.1,67.4],[-63.8,65],[-62.5,69],[-60.5,68.5],[-59.9,66],[-81.4,57],[-82.5,58],[-80,58.2],[-76.9,55.3],[-76.3,54],[-73.8,55.9],[-73.5,59.3],[-90.1,49],[-88.7,50.2],[-87.3,52.5],[-85.6,51.5],[-86.2,46.7],[-83.9,51.5],[-91.8,46.2],[-92.7,43.3],[-91.3,41],[-92.4,38.7],[-91.3,35.5],[-90.1,42.7],[-88.7,42.2],[-82.8,39.3],[-83.9,37],[-84.5,34.7],[-82.2,34.7],[-80.8,35],[-84.3,31.3],[-83.6,27.3],[-84.2,28.4],[-83.3,26.7],[-78.6,29.9],[-77.1,30.4],[-75.2,29.9],[-72.9,29.9],[-72.3,41.6],[-73.5,39.3],[-72.6,36.4],[-71.2,39.3],[-69.2,42.7],[-69.5,39.3],[-70.4,37.6],[-68.4,36.4],[-69,34.7],[-67.3,34.1],[-65.9,35.5],[-63.8,43.9],[-62.5,43.3],[-63.6,40.4],[-61.1,41.6],[-59.4,42.7],[-59.4,40.2],[-62.2,38.7],[-62.5,37]];
const cluster13More = [[-64.6,73.4],[-67.8,70.5],[-70.7,68.2],[-72.8,67.4],[-74.9,66],[-76.8,63.3],[-78.3,60.7],[-76.7,59.8],[-74.5,60.5],[-72,60.7],[-69.4,61.8],[-68.7,64],[-67.7,66],[-65,66.2],[-63,67],[-61.5,68.8],[-60.2,67.2],[-80.7,57.7],[-79,57.5],[-78,59],[-75.2,58.8],[-72.2,61],[-73.6,57.5],[-64,71.8],[-66,73],[-68,71],[-71,66.5],[-90.7,48.5],[-89.4,49.5],[-88,51.5],[-86.4,52],[-85.9,49.5],[-87.3,50],[-86.5,48.5],[-89,48.5],[-92.2,44.8],[-92,42],[-91.7,39.8],[-91.8,37],[-89.5,42.3],[-83.4,38.2],[-84.2,35.8],[-83.3,34.7],[-81.5,34.8],[-84.2,29.8],[-83.5,28.4],[-77.9,30.2],[-74.2,29.9],[-72.9,40.5],[-73,37.8],[-71.8,37.8],[-70.4,39.2],[-69.8,38],[-69.2,36],[-68.4,35],[-66.6,35],[-67.7,35.7],[-63,44],[-63.7,42],[-62.3,41],[-60.3,42],[-60.3,41],[-62.5,40.2],[-62.3,37.7]];
const cluster14 = [[-73.2,-43.7],[-71.8,-44.9],[-71.2,-41.6],[-69.2,-42.6],[-69.5,-46],[-68.1,-47.1],[-67.2,-44.3],[-65,-49.4],[-66.1,-48.3],[-64.7,-42.6],[-64.4,-44.3],[-43.2,-44.3],[-42.1,-46],[-40.9,-44.3],[-39.6,-43.7],[-38.4,-43.1],[-37,-42.6],[-37.3,-40.3],[-35.9,-38.6],[-35,-39.1],[-34.4,-42],[-35.9,-42],[-43.3,-50],[-43.8,-53.4],[-44.8,-58.2],[-42.7,-56.9],[-43.8,-60.9],[-41.5,-59.2],[-42.7,-63.7],[-39.3,-59.7],[-40.4,-63.2],[-38.7,-64.9],[-36.7,-64.9],[-41.3,-65.4],[-39.6,-67.2],[-37.3,-68.9],[-41.5,-70.6],[-38.7,-70],[-39,-72.9],[-37.9,-74.6],[-35.9,-74],[-36.7,-75.2]];
const cluster14More = [[-72.5,-44.2],[-71.6,-43],[-68.7,-44.5],[-68.8,-46.5],[-67.7,-43.7],[-67.2,-47.5],[-66.3,-45.5],[-65.5,-48.7],[-64.9,-47.8],[-65.5,-43.8],[-42.7,-45],[-41.5,-45],[-40.3,-44.6],[-39,-43.3],[-37.8,-42.8],[-36.6,-41],[-36.5,-39.5],[-35.4,-40.5],[-37,-41.8],[-38.2,-41.7],[-43.6,-51.7],[-43.4,-55.5],[-43.2,-58],[-42.2,-58.5],[-43.3,-59.7],[-42.5,-61],[-41,-61],[-41.7,-62.5],[-40,-61.5],[-39.6,-61],[-41.7,-64.3],[-40.4,-65.5],[-38.5,-62],[-38.3,-66.7],[-37.5,-65.5],[-39,-68],[-38,-67.5],[-38,-69.8],[-38.2,-72],[-37.2,-72.8],[-38.7,-73.5],[-37.2,-74.9],[-40.3,-64],[-37.5,-63.5],[-36,-66]];

const clusterPoints = [[...cluster0,...cluster0More],[...cluster1,...cluster1More],[...cluster2,...cluster2More],[...cluster3,...cluster3More],[...cluster4,...cluster4More],[...cluster5,...cluster5More],[...cluster6,...cluster6More],[...cluster7,...cluster7More],[...cluster8,...cluster8More],[...cluster9,...cluster9More],[...cluster10,...cluster10More],[...cluster11,...cluster11More],[...cluster12,...cluster12More],[...cluster13,...cluster13More],[...cluster14,...cluster14More]];
const clusterNames = ["Cluster 0","Cluster 1","Cluster 2","Cluster 3","Cluster 4","Cluster 5","Cluster 6","Cluster 7","Cluster 8","Cluster 9","Cluster 10","Cluster 11","Cluster 12","Cluster 13","Cluster 14"];
const clusterColors = ["#1f77b4","#aec7e8","#ff7f0e","#ffbb78","#2ca02c","#98df8a","#d62728","#ff9896","#9467bd","#c5b0d5","#8c564b","#c49c94","#e377c2","#f7b6d2","#7f7f7f"];
const axisTicks = [-100,-75,-50,-25,0,25,50,75,100];
const xDomain = [-105.8, 101.5];
const yDomain = [-111.4, 107.2];

const fmt = (v: number) => (v < 0 ? "\u2212" + Math.abs(v) : String(v));
const tickStyle = { fontFamily: "DejaVu Sans", fontSize: 15, fill: "#000" };
const axisLine = { stroke: "#000", strokeWidth: 1.2 };
const tickLine = { stroke: "#000", strokeWidth: 1 };

function Dot(props: any) {
  return <circle cx={props.cx} cy={props.cy} r={5.2} fill={props.fill} />;
}

function LegendBox() {
  return (
    <div style={{ boxSizing: "border-box", width: 115, height: 294, background: "rgba(255,255,255,0.82)", border: "1px solid #d4d4d4", borderRadius: 3, position: "relative" }}>
      {clusterNames.map((n, i) => (
        <div key={n} style={{ position: "absolute", left: 0, top: 10.6 + i * 19.33 - 9, height: 18, lineHeight: "18px", width: 113, fontFamily: "DejaVu Sans", fontSize: 12.2, color: "#000", whiteSpace: "nowrap" }}>
          <span style={{ position: "absolute", left: 14.5, top: 5.5, width: 7, height: 7, borderRadius: "50%", background: clusterColors[i] }} />
          <span style={{ position: "absolute", left: 41 }}>{n}</span>
        </div>
      ))}
    </div>
  );
}

export default function App() {
  return (
    <div style={{ position: "absolute", left: 0, top: 0, width: 1343, height: 705, background: "#fff" }}>
      <ScatterChart width={1343} height={705} margin={{ top: 7, right: 21, bottom: 11, left: 39 }}>
        <CartesianGrid stroke="#cccccc" strokeDasharray="3 2" strokeWidth={0.9} horizontalValues={axisTicks} verticalValues={axisTicks} />
        <XAxis type="number" dataKey="x" domain={xDomain} ticks={axisTicks} tickFormatter={fmt} tick={tickStyle} axisLine={axisLine} tickLine={tickLine} tickSize={5} tickMargin={5} height={50} interval={0} allowDataOverflow
          label={{ value: "t-SNE Dim 1", position: "insideBottom", offset: -4, style: { fontFamily: "DejaVu Serif", fontSize: 26, fill: "#000" } }} />
        <YAxis type="number" dataKey="y" domain={yDomain} ticks={axisTicks} tickFormatter={fmt} tick={tickStyle} axisLine={axisLine} tickLine={tickLine} tickSize={5} tickMargin={5} width={60} interval={0} allowDataOverflow
          label={{ value: "t-SNE Dim 2", angle: -90, position: "insideLeft", offset: -16, style: { fontFamily: "DejaVu Serif", fontSize: 26, fill: "#000", textAnchor: "middle" } }} />
        <ReferenceLine x={xDomain[1]} stroke="#000" strokeWidth={1.2} />
        <ReferenceLine y={yDomain[1]} stroke="#000" strokeWidth={1.2} />
        {clusterPoints.map((pts, i) => (
          <Scatter key={clusterNames[i]} name={clusterNames[i]} data={pts.map(([x, y]) => ({ x, y }))} fill={clusterColors[i]} shape={<Dot />} isAnimationActive={false} />
        ))}
        <Legend layout="vertical" align="center" verticalAlign="middle" content={<LegendBox />} wrapperStyle={{ left: 1200, top: 13, width: 115, height: 294 }} />
      </ScatterChart>
    </div>
  );
}
